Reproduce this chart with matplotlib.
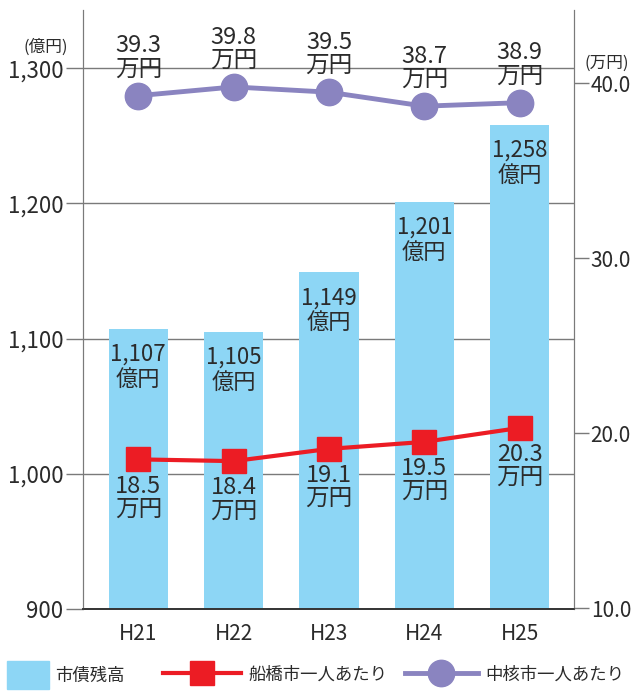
import matplotlib.pyplot as plt
from matplotlib.patches import Patch
from matplotlib.lines import Line2D

plt.rcParams['font.family'] = ['Noto Sans CJK JP', 'DejaVu Sans']

years = ['H21', 'H22', 'H23', 'H24', 'H25']
debt = [1107, 1105, 1149, 1201, 1258]          # 億円
funabashi = [18.5, 18.4, 19.1, 19.5, 20.3]     # 万円
chukaku = [39.3, 39.8, 39.5, 38.7, 38.9]       # 万円

left_ticks = [900, 1000, 1100, 1200, 1300]
right_ticks = [10.0, 20.0, 30.0, 40.0]

blue = '#8dd6f5'
red = '#ec1c24'
purple = '#8a84c0'
txt = '#2b2b2b'
gray = '#7a7a7a'

fig = plt.figure(figsize=(6.33, 6.93), dpi=100)
ax = fig.add_axes([83 / 633, 84 / 693, 491 / 633, 599 / 693])
ax2 = ax.twinx()

x = range(len(years))
ax.bar(x, debt, width=0.62, color=blue, zorder=2)
ax.set_xlim(-0.58, 4.57)
ax.set_ylim(900, 1343)
ax.set_yticks(left_ticks)
ax.set_yticklabels([f'{v:,}' for v in left_ticks])
ax.grid(axis='y', color=gray, lw=1, zorder=0)
ax.set_xticks(list(x))
ax.set_xticklabels(years)
ax.tick_params(axis='x', length=0, pad=10, labelsize=15, labelcolor=txt)
ax.tick_params(axis='y', length=12, width=1, color=gray, pad=2, labelsize=16, labelcolor=txt)

ax2.set_ylim(10 - 1 / 17.5, 44.2)
ax2.set_yticks(right_ticks)
ax2.set_yticklabels([f'{v:.1f}' for v in right_ticks])
ax2.tick_params(axis='y', length=11, width=1, color=gray, pad=1, labelsize=15, labelcolor=txt)

for a in (ax, ax2):
    a.spines['top'].set_visible(False)
    a.spines['left'].set_color(gray)
    a.spines['right'].set_color(gray)
    a.spines['bottom'].set_color('#333333')
    a.spines['bottom'].set_linewidth(1.2)

ax2.plot(x, funabashi, color=red, lw=3, marker='s', ms=17, zorder=3)
ax2.plot(x, chukaku, color=purple, lw=3.5, marker='o', ms=19, zorder=3)

for i, v in enumerate(debt):
    ax.annotate(f'{v:,}\n億円', (i, v), xytext=(0, -10), textcoords='offset points',
                ha='center', va='top', fontsize=16, color=txt, linespacing=1.1, zorder=4)
for i, v in enumerate(funabashi):
    ax2.annotate(f'{v}\n万円', (i, v), xytext=(0, -11), textcoords='offset points',
                 ha='center', va='top', fontsize=17, color=txt, linespacing=1.0)
for i, v in enumerate(chukaku):
    ax2.annotate(f'{v}\n万円', (i, v), xytext=(0, 11), textcoords='offset points',
                 ha='center', va='bottom', fontsize=17, color=txt, linespacing=1.0)

fig.text(46 / 633, 1 - 47 / 693, '(億円)', ha='center', va='center', fontsize=12, color=txt)
fig.text(607 / 633, 1 - 63 / 693, '(万円)', ha='center', va='center', fontsize=12, color=txt)

# legend: three separate entries so each handle gets its own width
leg_fs = 12.5
leg_kw = dict(loc='center left', frameon=False, fontsize=leg_fs, labelcolor=txt,
              borderpad=0, borderaxespad=0, handletextpad=0.4)
legend_items = [
    (Patch(color=blue), '市債残高', 7, 2.4, 2.1),
    (Line2D([], [], color=red, lw=3, marker='s', ms=17), '船橋市一人あたり', 163, 4.5, 1.0),
    (Line2D([], [], color=purple, lw=3.5, marker='o', ms=19), '中核市一人あたり', 405, 4.2, 1.0),
]
for h, lab, px, hl, hh in legend_items:
    leg = fig.legend([h], [lab], bbox_to_anchor=(px / 633, 1 - 675 / 693),
                     handlelength=hl, handleheight=hh, **leg_kw)

fig.savefig('out.png', dpi=100)
